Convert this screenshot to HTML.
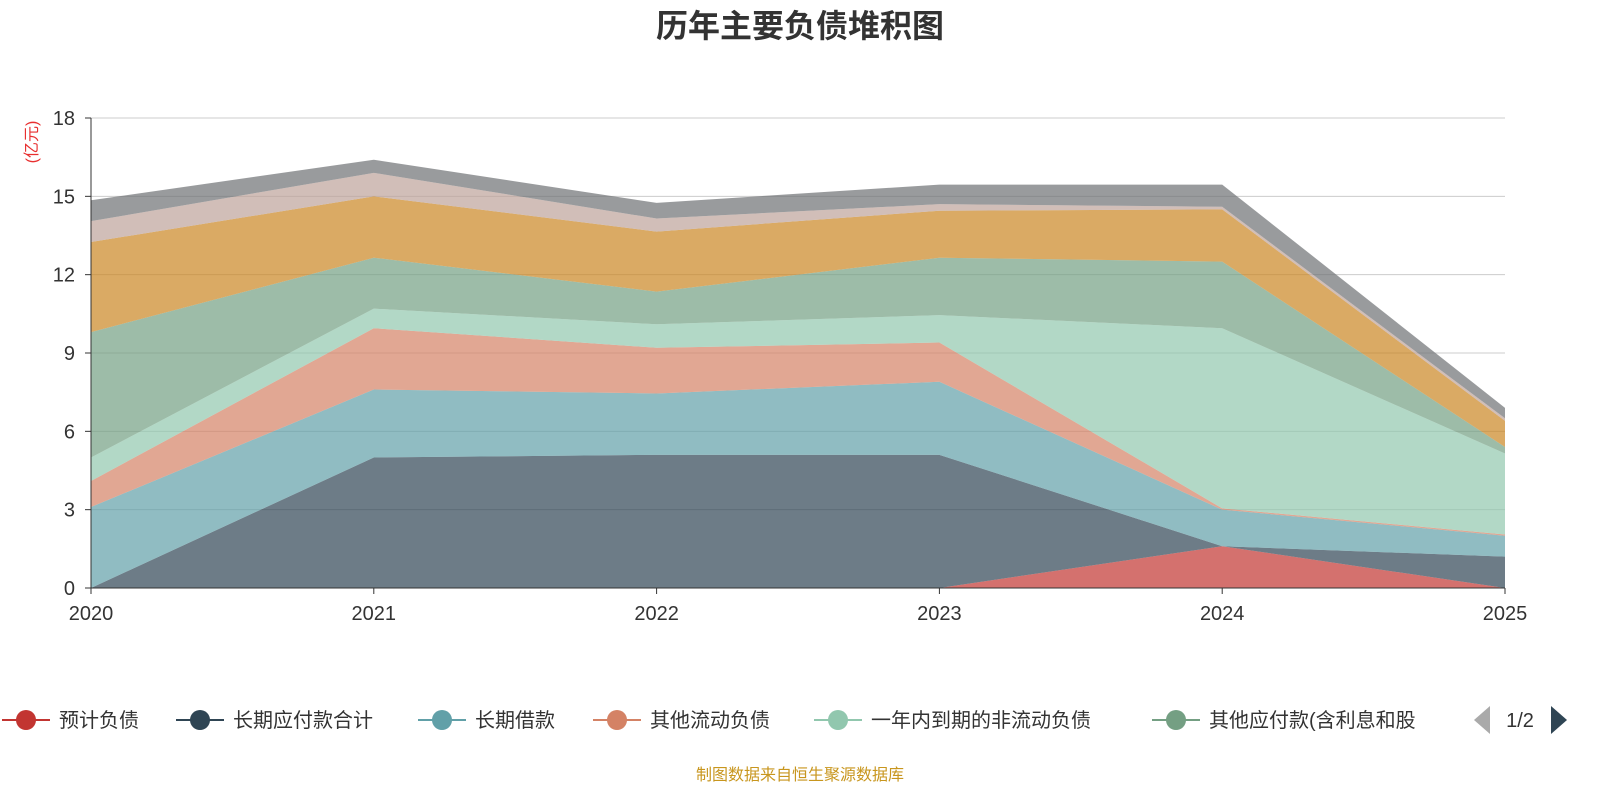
<!DOCTYPE html>
<html><head><meta charset="utf-8">
<style>
body{margin:0;width:1600px;height:800px;background:#fff;overflow:hidden;font-family:"Liberation Sans","Noto Sans CJK SC",sans-serif;}
</style></head>
<body>
<svg id="chart" width="1600" height="800" xmlns="http://www.w3.org/2000/svg">
<text x="800" y="37" text-anchor="middle" font-size="32" font-weight="bold" fill="#333" font-family="Liberation Sans,Noto Sans CJK SC,sans-serif">历年主要负债堆积图</text>
<text transform="translate(37,142) rotate(-90)" text-anchor="middle" font-size="16" fill="#e83030" font-family="Liberation Sans,Noto Sans CJK SC,sans-serif">(亿元)</text>
<g id="grid"></g><g id="areas"></g><g id="axes"></g><g id="legend"></g>
<text x="800" y="780" text-anchor="middle" font-size="16" fill="#c8961e" font-family="Liberation Sans,Noto Sans CJK SC,sans-serif">制图数据来自恒生聚源数据库</text>
</svg>
<script>
const categories=["2020","2021","2022","2023","2024","2025"];
const yTicks=[0,3,6,9,12,15,18];
const seriesNames=["预计负债","长期应付款合计","长期借款","其他流动负债","一年内到期的非流动负债","其他应付款(含利息和股","其他1","其他2","其他3"];
const s0=[0,0,0,0,1.6,0];
const s1=[0,5.0,5.1,5.1,0,1.2];
const s2=[3.1,2.6,2.35,2.8,1.4,0.8];
const s3=[1.0,2.35,1.75,1.5,0.05,0.05];
const s4=[0.9,0.75,0.9,1.05,6.9,3.1];
const s5=[4.8,1.95,1.25,2.2,2.55,0.25];
const s6=[3.45,2.35,2.3,1.8,2.0,1.0];
const s7=[0.8,0.9,0.5,0.25,0.1,0.1];
const s8=[0.8,0.5,0.6,0.75,0.85,0.4];
const series=[s0,s1,s2,s3,s4,s5,s6,s7,s8];
const colors=["#c23531","#2f4554","#61a0a8","#d48265","#91c7ae","#749f83","#ca8622","#bda29a","#6e7074"];
const NS="http://www.w3.org/2000/svg";
const x0=91,x1=1505,yb=588,yt=118,ymax=18;
const xs=i=>x0+(x1-x0)*i/(categories.length-1);
const ys=v=>yb-(yb-yt)*v/ymax;
function mk(t,a,p){const e=document.createElementNS(NS,t);for(const k in a)e.setAttribute(k,a[k]);p.appendChild(e);return e;}
const grid=document.getElementById('grid'),axes=document.getElementById('axes'),areas=document.getElementById('areas'),legend=document.getElementById('legend');
yTicks.forEach(v=>{
 const l=mk('line',{x1:x0,x2:x1,y1:ys(v),y2:ys(v),stroke:'#ccc','stroke-width':1},grid);
 
 
 const t=mk('text',{x:x0-16,y:ys(v)+7,'text-anchor':'end','font-size':20,fill:'#333'},axes);
 t.textContent=v;
 
 
 const tk=mk('line',{x1:x0-6,x2:x0,y1:ys(v),y2:ys(v),stroke:'#333'},axes);
 
 
});
let cum=categories.map(()=>0);
series.forEach((s,k)=>{
 const lo=cum.slice();const hi=cum.map((c,i)=>c+s[i]);cum=hi;
 let d='';hi.forEach((v,i)=>{d+=(i?'L':'M')+xs(i)+','+ys(v);});
 for(let i=lo.length-1;i>=0;i--)d+='L'+xs(i)+','+ys(lo[i]);
 const p=mk('path',{d:d+'Z',fill:colors[k],'fill-opacity':0.7,stroke:'none'},areas);
 
 
});
mk('line',{x1:x0,x2:x0,y1:yt,y2:yb,stroke:'#333'},axes);
mk('line',{x1:x0,x2:x1,y1:yb,y2:yb,stroke:'#333'},axes);
categories.forEach((c,i)=>{
 const t=mk('text',{x:xs(i),y:620,'text-anchor':'middle','font-size':20,fill:'#333'},axes);
 t.textContent=c;
 
 
 mk('line',{x1:xs(i),x2:xs(i),y1:yb,y2:yb+6,stroke:'#333'},axes);
});
const lx=[2,176,418,593,814,1152];
for(let k=0;k<6;k++){
 const g=mk('g',{},legend);
 
 
 mk('line',{x1:lx[k],x2:lx[k]+48,y1:720,y2:720,stroke:colors[k],'stroke-width':2},g);
 mk('circle',{cx:lx[k]+24,cy:720,r:10,fill:colors[k]},g);
 const t=mk('text',{x:lx[k]+57,y:727,'font-size':20,fill:'#333'},g);
 t.textContent=seriesNames[k];
}
const pl=mk('path',{d:'M1490,706 L1474,720 L1490,734Z',fill:'#aaa'},legend);


const pt=mk('text',{x:1520,y:727,'text-anchor':'middle','font-size':20,fill:'#333'},legend);
pt.textContent='1/2';


const pn=mk('path',{d:'M1551,706 L1567,720 L1551,734Z',fill:'#2f4554'},legend);


</script>
</body></html>
